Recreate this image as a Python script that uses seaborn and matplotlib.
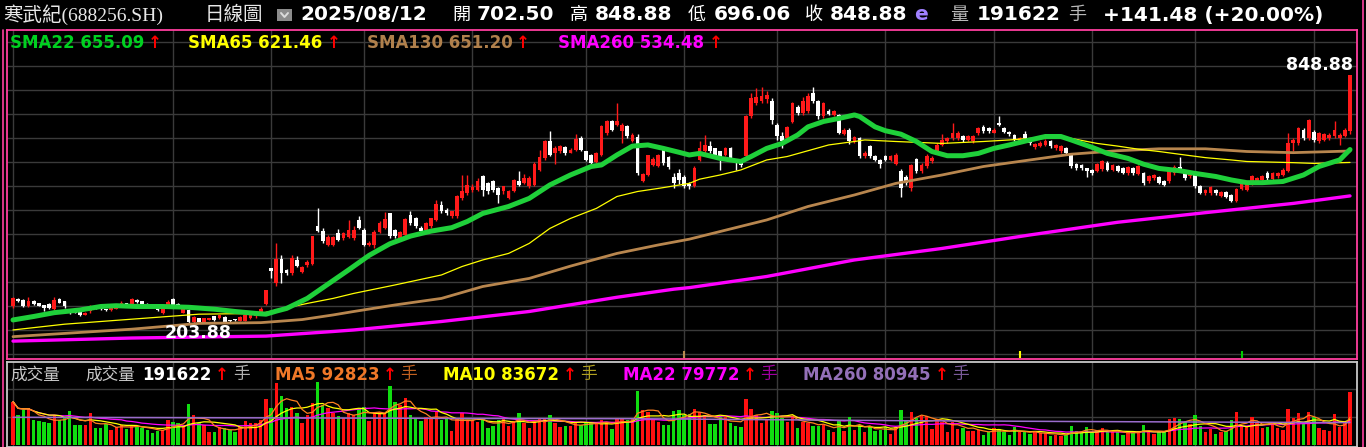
import numpy as np
import pandas as pd
import matplotlib
matplotlib.use("Agg")
import matplotlib.pyplot as plt
import seaborn as sns
from matplotlib.lines import Line2D
from matplotlib.patches import Rectangle

# ---------------- data ----------------
open_ = [247,266,264,249,262,255,251,253,240,267, 260,238,236,234,225,234,244,245,238,238,
         241,250,255,251,264,260,253,247,242,229, 248,266,253,231,238,207,216,205,212,221,
         216,219,212,212,210,210,218,222,229,254, 346,307,370,341,333,368,337,355,357,455,
         442,407,406,437,424,428,424,473,446,406, 406,441,450,489,446,420,433,485,476,450,
         446,455,472,511,498,481,481,528,541,550, 550,585,567,572,554,546,528,546,574,567,
         559,563,602,632,676,647,650,661,647,654, 684,650,641,623,641,697,728,719,704,716,
         676,688,574,589,615,612,654,636,584,593, 584,566,559,628,650,664,658,650,641,660,
         628,623,637,741,775,780,786,780,719,690, 684,727,766,749,754,801,780,741,756,745,
         745,695,707,676,684,637,664,637,628,637, 628,617,598,584,554,630,598,612,624,650,
         667,676,684,684,690,680,676,697,714,710, 699,725,710,701,693,676,695,680,661,664,
         667,676,658,650,658,641,617,615,606,602, 600,604,621,602,612,606,593,606,591,593,
         572,580,583,574,572,593,610,597,585,589, 560,541,541,550,534,545,537,520,552,550,
         567,569,576,593,578,585,589,598,671,671, 706,684,701,676,681,684,690,684,690,702.5]
high = [272,270,266,272,265,257,252,255,271,270, 262,240,237,236,233,251,246,247,241,248,
        249,260,257,270,266,262,255,249,244,244, 265,268,256,242,240,221,218,218,218,223,
        226,222,213,214,221,227,227,232,245,290, 348,413,380,345,380,378,352,368,430,502,
        450,432,430,448,440,472,455,482,450,416, 446,468,492,491,448,444,478,494,480,455,
        466,478,524,520,502,496,536,589,590,565, 580,590,570,576,557,560,550,578,598,592,
        585,622,654,680,702,665,668,665,660,696, 690,652,644,648,718,732,732,777,724,718,
        697,695,594,642,635,644,658,638,594,604, 588,570,612,676,693,676,660,652,662,662,
        630,626,745,801,814,817,806,790,724,700, 716,778,770,791,801,818,784,778,760,758,
        748,712,712,690,688,650,667,640,631,642, 642,645,604,588,618,633,620,643,637,672,
        696,688,725,702,693,693,694,714,718,713, 710,742,714,704,696,688,702,682,672,676,
        682,680,670,668,661,645,620,618,608,605, 621,628,625,618,615,610,612,610,616,596,
        588,592,586,577,606,614,636,600,597,592, 563,553,560,553,548,548,540,554,570,571,
        590,583,588,599,596,596,606,697,684,714, 710,734,705,701,698,697,728,697,712,848.88]
low = [244,259,246,246,252,247,234,240,238,256, 242,228,229,223,224,229,240,238,235,236,
       240,248,249,249,257,251,246,243,236,227, 246,246,246,229,203.88,205,204,204,211,210,
       214,205,207,208,208,209,215,218,227,252, 320,300,308,330,330,350,333,350,355,440,
       412,405,404,418,420,425,420,448,405,404, 400,438,448,425,425,418,430,460,452,440,
       442,452,470,490,485,478,478,525,538,545, 546,535,540,545,515,540,526,544,560,565,
       555,560,600,628,637,618,645,642,645,650, 650,625,614,620,638,694,704,715,672,686,
       674,590,570,587,612,610,616,605,555,566, 556,553,557,625,645,647,635,602,637,625,
       602,609,635,738,770,777,775,722,680,660, 680,724,745,745,750,777,735,738,745,742,
       695,692,670,672,632,632,633,624,608,625, 625,614,531,563,548,595,595,608,620,646,
       664,672,680,680,675,676,673,693,698,699, 697,716,697,690,676,672,680,667,657,661,
       663,660,655,647,640,608,603,603,583,590, 596,600,598,598,596,592,590,590,588,564,
       569,577,566,560,569,590,598,577,582,556, 540,538,538,538,531,528,519,518,549,547,
       563,566,573,577,575,582,586,596,650,667, 680,680,675,672,678,680,684,667,687,696.06]
close = [268,262,248,262,254,249,243,243,264,257, 247,230,231,225,231,242,242,240,237.5,246,
         247,257,250,266,259,253,248,245,238,242, 259,248,248,240,206,219,206,216,216,212,
         225,206,208,211,219,225,224,228,240,290, 340,370,333,333,372,352,349,363,430,442,
         416,428,428,420,437,446,446,450,407,413, 441,463,474,429,429,441,474,463,455,444,
         463,476,513,494,489,494,533,546,563,558, 572,550,546,550,537,559,546,576,563,580,
         580,617,635,676,641,658,664,645,654,682, 654,628,619,645,715,728,706,729,719,690,
         693,593,591,641,630,641,619,609,567,576, 559,561,606,658,667,650,637,628,658,628,
         619,615,741,790,791,794,797,732,689,676, 714,775,749,780,793,780,741,775,748,754,
         699,707,676,687,637,645,637,628,618,628, 638,641,554,569,615,600,615,638,632,667,
         680,684,697,697,680,690,690,710,702,702, 706,719,701,695,680,684,684,671,669,673,
         678,664,667,664,647,611,606,606,598,595, 617,624,602,615,600,595,609,593,612,567,
         585,589,569,563,602,610,602,580,593,560, 543,550,558,541,545,531,522,552,567,567,
         585,580,585,580,593,593,602,671,680,710, 684,732,680,697,695,693,706,693,706,848.88]
volume_k = [155.9,108,126,132,90,87,84.5,78.6,108,90, 96,122,72.6,72.6,72.6,114,63,61,75,55,
            67,73,58,73,67,63,55,43,51,55, 90,84.5,79,73,146,108,79,73,46,46,
            67,63,55,46,67,87,79,79,90,165, 134,224,177,132,138,114,79,108,150,227,
            144,132,114,105,96,114,108,132,138,87, 118,118,114,212,153,144,168,108,99,87,
            102,99,120,90,94,51,95,114,90,90, 84.5,90,63,70,90,96,70,87,114,79,
            61,87,94,99,108,79,67,70,70,79, 73,79,79,79,90,84.5,58,94,96,90,
            99,194,126,118,90,84.5,73,73,123,126, 108,110,130,118,108,75,75,102,102,79,
            70,67,165,130,108,79,90,122,114,99, 84.5,102,63,84.5,79,70,70,73,55,46,
            90,51,102,55,73,49,67,51,55,67, 39,67,126,90,118,99,106,106,58,94,
            84.5,46,84.5,58,63,51,51,55,37,46, 61,58,49,37,67,46,46,39,46,43,
            43,34.5,37,34.5,37,70,51,49,67,43, 51,61,46,49,46,37,46,46,51,73,
            46,39,46,46,94,99,94,84.5,75,108, 70,49,58,40,49,51,90,118,70,67,
            102,79,61,67,79,63,55,130,99,114, 79,118,102,63,55,51,111,67,79,191.622]

# moving averages of price, read as sparse points (day index, value)
sma22_day = [0,4,8,13,17,20,24,29,34,39,43,47,49,51,53,57,61,65,69,73,77,81,85,88,91,96,100,104,108,
             112,114,117,120,123,126,129,131,133,137,141,143,146,149,152,154,157,160,163,164,167,169,
             172,175,178,181,184,187,190,193,197,200,203,205,209,212,216,219,222,226,229,233,236,239,
             242,246,250,253,257,259]
sma22_val = [212,221,231,238,247,249,247,247,245,240,234,229,227,235,242,268,305,342,380,410,430,443,452,
             468,489,507,528,563,589,611,615,641,664,667,658,648,641,645,632,624,637,658,671,693,714,
             728,736,745,741,714,704,695,676,650,639,639,645,658,667,680,689,689,680,661,645,632,617,
             606,600,593,585,576,569,569,572,589,611,628,655.09]
sma65_day = [0,10,23,36,48,57,62,66,74,83,87,91,96,100,104,108,113,117,121,125,131,133,137,141,146,150,
             154,158,163,165,171,180,188,193,197,202,205,210,214,218,222,227,231,236,239,248,252,259]
sma65_val = [186,201,214,227,229,255,268,281,303,329,351,368,385,411,450,476,502,533,546,554,567,578,589,
             602,628,637,652,667,676,680,676,671,676,680,684,687,684,671,664,656,650,641,634,628,624,621,
             619,621.46]
sma130_day = [0,10,23,30,36,48,56,62,66,74,83,91,100,108,117,125,131,137,146,154,163,171,180,188,197,205,
              214,222,231,239,248,259]
sma130_val = [168.6,177,188,196,203,205,213,225,234,251,268,299,320,352,385,407,422,442,472,507,537,567,
              589,611,628,643,652,657,657,650,647,651.2]
sma260_day = [0,23,49,62,66,83,100,117,128,131,146,163,180,197,214,231,248,259]
sma260_val = [157,165,170,182,186,208,234,271,292,296,325,368,398,433,466,491,515,534.48]
vma260_day = [0,50,86,120,172,205,259]
vma260_val_k = [100,98,96,95,88,85,80.945]

month_start_day = [0,31,50,68,89,111,130,148,169,190,209,229,252]
event_day = [130,195,238]
event_color = ["#b88a50", "#ffff00", "#00cc00"]

# ---------------- style ----------------
sns.set_theme(style="dark")
plt.rcParams["font.family"] = ["DejaVu Sans", "Noto Sans CJK TC"]
CJK = ["Noto Sans CJK TC", "DejaVu Sans"]

W, H = 1366, 447
fig = plt.figure(figsize=(W / 100, H / 100), dpi=100, facecolor="black")


def fx(px):
    return px / W


def fy(py):
    return 1 - py / H


n = len(close)
days = np.arange(n)
PX0, PXN = 13.0, 1350.0
step = (PXN - PX0) / (n - 1)
xmin = -(PX0 - 7) / step
xmax = xmin + 1350 / step

# price <-> pixel mapping of the main panel
REF_P, REF_Y, P_PER_PX = 848.88, 75.0, 2.6


def price_at(py):
    return REF_P - (py - REF_Y) * P_PER_PX


ax = fig.add_axes([fx(7), fy(359), 1350 / W, 329 / H])
axv = fig.add_axes([fx(7), 0, 1350 / W, 85 / H])
for a in (ax, axv):
    a.set_facecolor("black")
    a.set_xticks([])
    a.set_yticks([])
    a.grid(False)
VOL_PER_PX = 3571.0

for s in ax.spines.values():
    s.set_color("#ff3f9f")
    s.set_linewidth(1.3)
for s in axv.spines.values():
    s.set_color("#c8c8c8")
    s.set_linewidth(1.3)

GRID = "#3a3a3a"
for py in np.arange(41.7, 359, 24):
    ax.axhline(price_at(py), color=GRID, lw=1.0, zorder=0)
for v in (100000, 200000):
    axv.axhline(v, color=GRID, lw=1.0, zorder=0)
for d in month_start_day:
    ax.axvline(d, color=GRID, lw=1.0, zorder=0)
    axv.axvline(d, color=GRID, lw=1.0, zorder=0)

# ---------------- candles ----------------
o = np.array(open_, float)
h = np.array(high, float)
l = np.array(low, float)
c = np.array(close, float)
up = c >= o
ccol = np.where(up, "#ff1a1a", "#ffffff")
ax.vlines(days, l, h, colors=ccol, lw=1.0, zorder=2)
body_lo = np.minimum(o, c)
body_h = np.maximum(np.abs(c - o), 2.6)
ax.bar(days, body_h, bottom=body_lo, width=0.72, color=ccol, linewidth=0, zorder=2, antialiased=False)

# ---------------- price moving averages ----------------
sns.lineplot(x=sma260_day, y=sma260_val, ax=ax, color="#ff00ff", lw=2.4, sort=False, estimator=None, zorder=3)
sns.lineplot(x=sma130_day, y=sma130_val, ax=ax, color="#b8864e", lw=2.0, sort=False, estimator=None, zorder=3)
sns.lineplot(x=sma65_day, y=sma65_val, ax=ax, color="#ffff00", lw=0.9, sort=False, estimator=None, zorder=3)
sns.lineplot(x=sma22_day, y=sma22_val, ax=ax, color="#1fd03a", lw=3.6, sort=False, estimator=None, zorder=4)

ax.vlines(event_day, price_at(358), price_at(351), colors=event_color, lw=1.5, zorder=3)

# price labels
ax.annotate("848.88", xy=(n - 1, h[-1]), xytext=(3, 10), textcoords="offset pixels",
            ha="right", va="center", color="white", fontsize=12.5, fontweight="bold", zorder=6)
imin = int(np.argmin(l))
ax.annotate("203.88", xy=(imin, l[imin]), xytext=(10, -10), textcoords="offset pixels",
            ha="center", va="center", color="white", fontsize=12.5, fontweight="bold", zorder=6)

# ---------------- volume ----------------
vol = np.array(volume_k) * 1000
vcol = np.where(up, "#ff1010", "#10dd10")
axv.bar(days, vol, width=0.66, color=vcol, linewidth=0, zorder=2, antialiased=False)
vs = pd.Series(vol)
for win, col in ((22, "#ff00ff"), (10, "#ffff00"), (5, "#ff8020")):
    sns.lineplot(x=days, y=vs.rolling(win, min_periods=1).mean().values, ax=axv, color=col,
                 lw=0.9, sort=False, estimator=None, zorder=3)
sns.lineplot(x=vma260_day, y=np.array(vma260_val_k) * 1000, ax=axv, color="#9a6ccc", lw=1.1,
             sort=False, estimator=None, zorder=3)

ax.set_xlim(xmin, xmax)
ax.set_ylim(price_at(359), price_at(30))
axv.set_xlim(xmin, xmax)
axv.set_ylim(-(447 - 445.3) * VOL_PER_PX, (445.3 - 362) * VOL_PER_PX)
for a in (ax, axv):
    a.set_xlabel("")
    a.set_ylabel("")


# ---------------- texts ----------------
def ftxt(x, y, s, color="white", size=12, weight="bold", family=None, ha="left"):
    fig.text(fx(x), fy(y), s, color=color, fontsize=size, fontweight=weight,
             family=family if family else ["DejaVu Sans", "Noto Sans CJK TC"], ha=ha, va="center")


HY = 15
ftxt(3, HY, "寒武紀(688256.SH)", color="#e8e8e8", size=14, weight="normal",
     family=["Liberation Serif", "Noto Sans CJK TC"])
ftxt(205, HY, "日線圖", color="#e8e8e8", size=14, weight="normal", family=CJK)
fig.add_artist(Rectangle((fx(277), fy(21)), 15 / W, 12 / H, transform=fig.transFigure,
                         facecolor="#8c8c8c", edgecolor="none"))
fig.add_artist(Line2D([fx(281), fx(284.5), fx(288)], [fy(13), fy(17), fy(13)],
                      transform=fig.transFigure, color="#dcdcdc", lw=1.4))
ftxt(300, HY, "2025/08/12", size=14.5)
ftxt(452, HY, "開", size=13, weight="normal", family=CJK)
ftxt(477, HY, "702.50", size=14.5)
ftxt(570, HY, "高", size=13, weight="normal", family=CJK)
ftxt(595, HY, "848.88", size=14.5)
ftxt(688, HY, "低", size=13, weight="normal", family=CJK)
ftxt(714, HY, "696.06", size=14.5)
ftxt(805, HY, "收", size=13, weight="normal", family=CJK)
ftxt(830, HY, "848.88", size=14.5)
ftxt(914, HY, "e", color="#a080ff", size=14.5)
ftxt(950, HY, "量", color="#b8b8b8", size=13, weight="normal", family=CJK)
ftxt(977, HY, "191622", size=14.5)
ftxt(1068, HY, "手", color="#b8b8b8", size=13, weight="normal", family=CJK)
ftxt(1103, HY, "+141.48 (+20.00%)", size=14.5)

LY = 43
ftxt(10, LY, "SMA22 655.09", color="#00d020", size=12)
ftxt(155, LY, "↑", color="#ff0000", size=12, ha="center")
ftxt(188, LY, "SMA65 621.46", color="#ffff00", size=12)
ftxt(334, LY, "↑", color="#ff0000", size=12, ha="center")
ftxt(367, LY, "SMA130 651.20", color="#b0804c", size=12)
ftxt(523, LY, "↑", color="#ff0000", size=12, ha="center")
ftxt(558, LY, "SMA260 534.48", color="#ff00ff", size=12)
ftxt(716, LY, "↑", color="#ff0000", size=12, ha="center")

VY = 375
ftxt(10, VY, "成交量", color="#c8c8c8", size=12, weight="normal", family=CJK)
ftxt(85, VY, "成交量", color="#c8c8c8", size=12, weight="normal", family=CJK)
ftxt(142, VY, "191622", color="white", size=12)
ftxt(222, VY, "↑", color="#ff0000", size=12, ha="center")
ftxt(233, VY, "手", color="#b0b0b0", size=12, weight="normal", family=CJK)
ftxt(275, VY, "MA5 92823", color="#f07828", size=12)
ftxt(390, VY, "↑", color="#ff0000", size=12, ha="center")
ftxt(400, VY, "手", color="#c06020", size=12, weight="normal", family=CJK)
ftxt(443, VY, "MA10 83672", color="#ffff00", size=12)
ftxt(570, VY, "↑", color="#ff0000", size=12, ha="center")
ftxt(580, VY, "手", color="#b0a020", size=12, weight="normal", family=CJK)
ftxt(623, VY, "MA22 79772", color="#ff00ff", size=12)
ftxt(750, VY, "↑", color="#ff0000", size=12, ha="center")
ftxt(760, VY, "手", color="#a000a0", size=12, weight="normal", family=CJK)
ftxt(803, VY, "MA260 80945", color="#9370b8", size=12)
ftxt(942, VY, "↑", color="#ff0000", size=12, ha="center")
ftxt(952, VY, "手", color="#7a5a9a", size=12, weight="normal", family=CJK)

# outer frame lines
fig.add_artist(Line2D([fx(2.5), fx(2.5)], [fy(30), fy(447)], transform=fig.transFigure, color="#ff3f9f", lw=1.2))
fig.add_artist(Line2D([fx(1363), fx(1363)], [fy(0), fy(447)], transform=fig.transFigure, color="#ff3f9f", lw=1.2))

fig.savefig("out.png", dpi=100, facecolor="black")
